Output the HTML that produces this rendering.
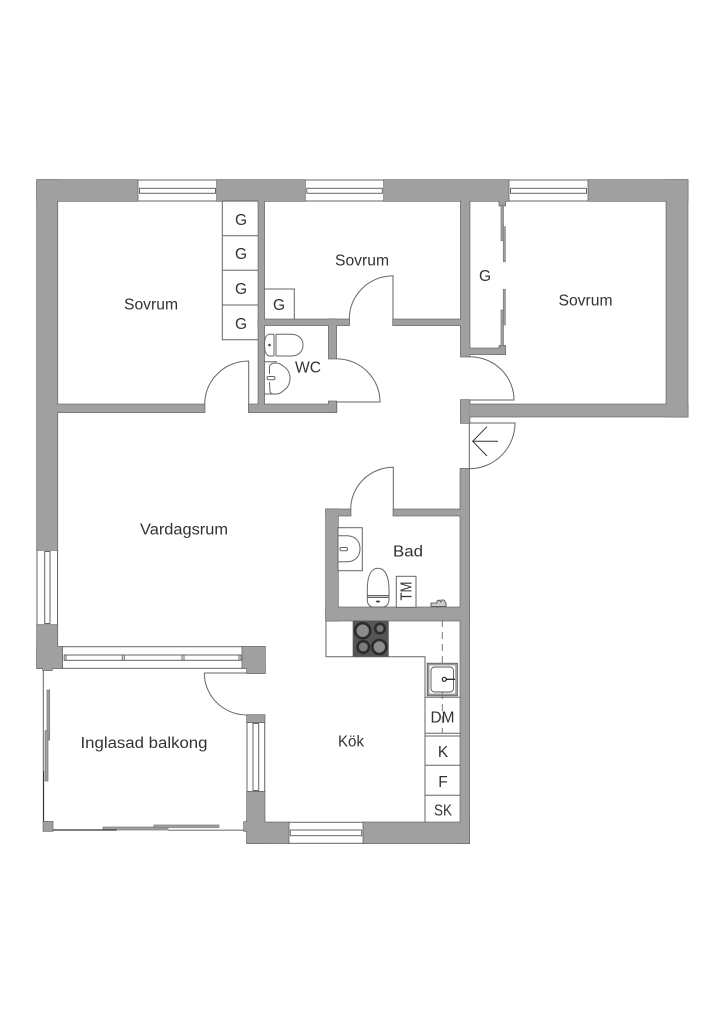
<!DOCTYPE html>
<html lang="sv"><head><meta charset="utf-8"><title>Planritning</title>
<style>
html,body{margin:0;padding:0;background:#fff}
svg{display:block}
text{font-family:"Liberation Sans",sans-serif;fill:#333;font-size:15.5px;text-anchor:middle}
.l{fill:none;stroke:#666;stroke-width:1}
.d{fill:none;stroke:#333;stroke-width:1}
.r{fill:#fff;stroke:#666;stroke-width:1}
.p{fill:#a0a0a0;stroke:#777;stroke-width:.7}
</style></head><body>
<svg width="724" height="1024" viewBox="0 0 724 1024" xmlns="http://www.w3.org/2000/svg">
<defs>
<g id="w">
<rect x="37" y="180" width="100.7" height="21"/>
<rect x="217" y="180" width="88" height="21"/>
<rect x="384" y="180" width="124.7" height="21"/>
<rect x="588.3" y="180" width="99.4" height="21"/>
<rect x="666.3" y="180" width="21.4" height="236.7"/>
<rect x="469.7" y="404.3" width="218" height="12.4"/>
<rect x="460.7" y="400" width="9" height="23"/>
<rect x="37" y="180" width="20.5" height="370"/>
<rect x="37" y="625" width="20.5" height="43.3"/>
<rect x="37" y="646.7" width="25.3" height="21.6"/>
<rect x="43" y="666" width="9" height="4.3"/>
<rect x="57" y="404.3" width="147.7" height="8"/>
<rect x="248.7" y="404.3" width="87.8" height="8"/>
<rect x="328.7" y="401.3" width="7.8" height="11"/>
<rect x="258.3" y="201" width="6" height="205"/>
<rect x="258.3" y="319.3" width="91" height="6"/>
<rect x="328.7" y="319.3" width="7.6" height="39.4"/>
<rect x="393" y="319.3" width="68" height="6"/>
<rect x="460.7" y="201" width="9" height="155.7"/>
<rect x="469" y="348.3" width="36.3" height="6"/>
<rect x="499.3" y="345.7" width="6" height="8.6"/>
<rect x="499.3" y="200" width="6" height="5.7"/>
<rect x="460.3" y="468.7" width="9" height="374.6"/>
<rect x="326" y="509.3" width="24.7" height="6.4"/>
<rect x="393.3" y="509.3" width="68" height="6.4"/>
<rect x="326" y="509.3" width="12" height="111.4"/>
<rect x="326" y="607.3" width="143" height="13.4"/>
<rect x="363.3" y="822.3" width="106" height="21"/>
<rect x="247" y="822.3" width="41.7" height="21"/>
<rect x="247" y="791.7" width="17.7" height="51.6"/>
<rect x="247" y="715" width="17.7" height="7.3"/>
<rect x="242.3" y="646.7" width="22.7" height="21.6"/>
<rect x="247" y="666" width="18" height="7.3"/>
<rect x="244" y="822" width="4" height="9"/>
<rect x="43.3" y="821.7" width="9.4" height="9.3"/>
</g>
</defs>

<!-- windows -->
<g>
<rect class="r" x="137.7" y="180" width="79.3" height="21"/>
<rect class="r" x="139.5" y="188.3" width="76" height="5"/>
<rect class="r" x="305" y="180" width="79" height="21"/>
<rect class="r" x="306.8" y="188.3" width="75.5" height="5"/>
<rect class="r" x="508.7" y="180" width="79.6" height="21"/>
<rect class="r" x="510.5" y="188.3" width="76" height="5"/>
<rect class="r" x="37" y="550" width="20.5" height="75"/>
<rect class="r" x="44.7" y="551.5" width="5.3" height="72"/>
<rect class="r" x="62.3" y="646.7" width="180" height="21.6"/>
<rect class="r" x="64.2" y="655" width="176.8" height="5.3"/>
<path class="l" d="M122.3 655v5.3M124.3 655v5.3M182 655v5.3M184 655v5.3M239 655v5.3M66 655v5.3"/>
<rect class="r" x="247" y="722.3" width="17.7" height="69.4"/>
<rect class="r" x="253" y="723.5" width="5.7" height="67"/>
<rect class="r" x="288.7" y="822.3" width="74.6" height="21"/>
<rect class="r" x="290.3" y="830" width="71.4" height="5.7"/>
</g>

<!-- balcony glazing -->
<path class="l" d="M43.3 670V771"/>
<path d="M43.5 771V822" fill="none" stroke="#333" stroke-width="1.2"/>
<rect class="p" x="47" y="690" width="2.7" height="50"/>
<rect class="p" x="45" y="730.7" width="3" height="50.3"/>
<rect class="p" x="103" y="827" width="65" height="3"/>
<rect class="p" x="154" y="825" width="65" height="2.5"/>
<path d="M52 830H116.7" stroke="#333" stroke-width="1.2" fill="none"/>
<path d="M168 830.2H245" stroke="#999" stroke-width="1.5" fill="none"/>

<!-- walls -->
<use href="#w" fill="#555" stroke="#555" stroke-width="1.2"/>
<use href="#w" fill="#a0a0a0" stroke="none"/>

<!-- closets -->
<path class="l" d="M258 201H222.3V339.7H258M222.3 235.7H258M222.3 270.3H258M222.3 305H258M264 289H294.3V319"/>
<rect class="p" x="501" y="205" width="2.5" height="35.7"/>
<rect class="p" x="503.3" y="226.7" width="2" height="35"/>
<rect class="p" x="503.3" y="289.3" width="2" height="35.7"/>
<rect class="p" x="501" y="310" width="2.5" height="36"/>

<!-- doors -->
<path class="l" d="M204.7 404A44 43 0 0 1 248.7 361V404"/>
<path class="l" d="M349.3 319A44 43.3 0 0 1 393 275.7V319"/>
<path class="l" d="M469.7 356.7A44.3 43.3 0 0 1 514 400H469.7"/>
<path class="l" d="M336.3 358.7A44 43.3 0 0 1 380 402H336.3"/>
<path class="l" d="M469.3 423H515A45.7 45.7 0 0 1 469.3 468.7Z"/>
<path class="d" d="M498 441.3H472.7M487 426.7L472.7 441.3L487 456"/>
<path class="l" d="M350.7 509.3A42.6 42 0 0 1 393.3 467.3V509.3"/>
<path class="l" d="M204.3 673H247M204.3 673A42.7 42 0 0 0 247 715"/>

<!-- WC -->
<path class="l" d="M275.7 334.2H291C299 334.2 303 339 303 345S299 356 291 356H275.7M274 334.2V356M276 334.2V356"/>
<path class="l" d="M274 334.2H269C266 335 264.5 338 264.5 345S266 355 269 356H274"/>
<circle cx="269.5" cy="345" r="1.3" fill="#444"/>
<path class="l" d="M264 361.7H277M264 394H277"/>
<path class="l" d="M269.5 366C272 362 279 362 283 366C288 369 290 373 290 378S288 388 283 391C279 395 272 395 270 392L269.5 382M269.5 366V374"/>
<rect class="r" x="267" y="376.5" width="8" height="3.2" rx="1.5"/>

<!-- Bad -->
<rect class="r" x="338" y="527.7" width="24.3" height="43"/>
<path class="l" d="M338.5 535.7H347C355 535.7 360 541 360 548.7S355 561.7 347 561.7H338.5"/>
<rect class="r" x="340" y="547.5" width="7.5" height="3.2" rx="1.5"/>
<path class="l" d="M367.3 590C367.3 576 371 568.3 378 568.3S389 576 389 590V600C389 604 386 607 383 607H373C370 607 367.3 604 367.3 600Z"/>
<path class="d" d="M367.5 595.7H388.8"/>
<path class="l" d="M367.5 597.5H388.8"/>
<ellipse cx="378" cy="601.5" rx="2" ry="1" fill="#444"/>
<rect class="r" x="396.3" y="576.3" width="19.7" height="31"/>
<path d="M431 606.5V603H437V601L439 600L441 602V600L444 600L446 603V606.5Z" fill="#ccc" stroke="#444" stroke-width=".8"/>

<!-- kitchen -->
<path class="l" d="M326 620.7V656.7H425V822.3"/>
<rect x="352.7" y="620.7" width="36" height="36" fill="#555"/>
<g stroke="#2c2c2c" stroke-width="2.6">
<circle cx="362.7" cy="630.7" r="7.5" fill="#8c8c8c"/>
<circle cx="380" cy="628.5" r="4.8" fill="#777"/>
<circle cx="363.3" cy="647" r="5.8" fill="#7c7c7c"/>
<circle cx="379.3" cy="647" r="7" fill="#8c8c8c"/>
</g>
<path d="M442.3 620V733.3" fill="none" stroke="#777" stroke-width="1" stroke-dasharray="7 5"/>
<rect x="427.3" y="663.3" width="30" height="32.4" fill="none" stroke="#555" stroke-width="1"/>
<rect x="428.6" y="664.6" width="27.4" height="29.8" fill="none" stroke="#999" stroke-width="1.6"/>
<rect x="431" y="667" width="22.5" height="25" rx="3.5" fill="#fff" stroke="#555" stroke-width=".9"/>
<circle cx="444.3" cy="679.3" r="2" fill="none" stroke="#222" stroke-width="1.2"/>
<path d="M446 679.3H455" stroke="#222" stroke-width="1.3"/>
<path class="l" d="M425 697.3H460M425 733.3H460M425 736H460M425 765.3H460M425 795.3H460"/>

<!-- labels -->
<text x="151" y="309.5" textLength="54" lengthAdjust="spacingAndGlyphs">Sovrum</text>
<text x="362" y="265.5" textLength="54" lengthAdjust="spacingAndGlyphs">Sovrum</text>
<text x="585.5" y="305.5" textLength="54" lengthAdjust="spacingAndGlyphs">Sovrum</text>
<text x="308" y="372.5" textLength="26" lengthAdjust="spacingAndGlyphs">WC</text>
<text x="184" y="534.5" textLength="88" lengthAdjust="spacingAndGlyphs">Vardagsrum</text>
<text x="408" y="556.5" textLength="30" lengthAdjust="spacingAndGlyphs">Bad</text>
<text x="351" y="746.5" textLength="26" lengthAdjust="spacingAndGlyphs">Kök</text>
<text x="144" y="748" textLength="127" lengthAdjust="spacingAndGlyphs">Inglasad balkong</text>
<text x="241" y="225">G</text>
<text x="241" y="259">G</text>
<text x="241" y="294">G</text>
<text x="241" y="329">G</text>
<text x="279" y="310">G</text>
<text x="485" y="281">G</text>
<text x="442.5" y="722.5" textLength="24" lengthAdjust="spacingAndGlyphs">DM</text>
<text x="443" y="757">K</text>
<text x="443" y="787">F</text>
<text x="443" y="815.5" textLength="18" lengthAdjust="spacingAndGlyphs">SK</text>
<text x="0" y="0" transform="translate(411.5 591) rotate(-90)" textLength="19" lengthAdjust="spacingAndGlyphs">TM</text>
</svg>
</body></html>
